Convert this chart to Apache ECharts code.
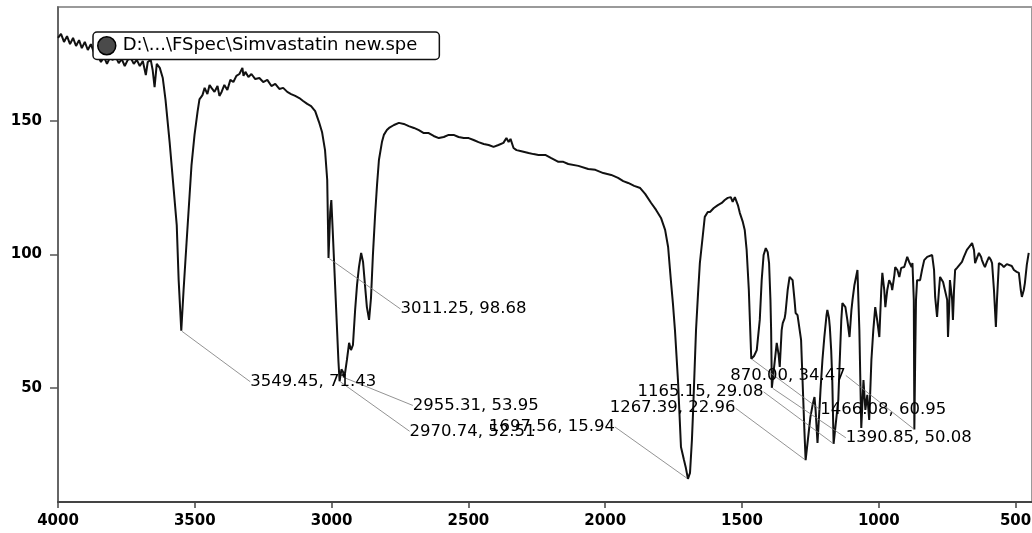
<!DOCTYPE html>
<html>
<head>
<meta charset="utf-8">
<script src="https://cdn.jsdelivr.net/npm/echarts@6/dist/echarts.min.js"></script>
<style>
html,body{margin:0;padding:0;background:#fff;}
#chart{width:1032px;height:533px;}
</style>
</head>
<body>
<div id="chart"></div>
<script>
const seriesName = 'D:\\...\\FSpec\\Simvastatin new.spe';

const wavenumber = [
4000,3989,3978,3967,3956,3945,3934,3923,3913,3902,3891,3880,3869,3854,3843,3832,3821,3811,3800,3789,
3778,3767,3756,3745,3734,3723,3712,3701,3690,3679,3672,3661,3654,3647,3639,3628,3617,3607,3592,3577,
3566,3559,3549.45,3541,3530,3519,3512,3501,3490,3483,3472,3464,3454,3446,3439,3428,3417,3410,3402,3392,
3381,3370,3359,3348,3337,3326,3322,3315,3304,3293,3279,3264,3250,3235,3220,3206,3191,3177,3162,3148,
3133,3118,3104,3089,3075,3060,3046,3035,3024,3016,3011.25,3005,3001,2996,2988,2980,2975,2970.74,2964,2958,
2955.31,2951,2944,2936,2929,2922,2914,2907,2900,2892,2885,2878,2871,2863,2856,2849,2841,2834,2827,2816,
2809,2798,2790,2772,2754,2736,2718,2699,2681,2663,2645,2627,2608,2590,2572,2554,2536,2517,2499,2481,
2463,2444,2426,2408,2390,2372,2361,2353,2346,2335,2324,2310,2295,2280,2262,2244,2219,2197,2171,2153,
2135,2098,2062,2036,2007,1978,1953,1934,1916,1894,1872,1854,1832,1814,1796,1781,1770,1760,1752,1745,
1734,1723,1712,1705,1697.56,1690,1683,1679,1672,1668,1661,1654,1643,1636,1625,1617,1603,1588,1574,1563,
1552,1541,1534,1526,1515,1508,1497,1490,1483,1475,1471,1466.08,1456,1446,1435,1428,1421,1413,1406,1401,
1396,1393.5,1390.85,1373,1366,1362,1355,1351,1344,1341,1333,1326,1319,1315,1308,1304,1297,1290,1284,1281,
1276,1272,1267.39,1250,1242,1235,1231,1224,1217,1213,1206,1199,1191,1188,1182,1179,1174,1170,1165.15,1148,
1144,1137,1133,1126,1122,1115,1107,1100,1096,1089,1078,1071,1064,1056,1049,1042,1035,1027,1020,1013,
1006,998,991,987,980,976,969,962,954,951,943,940,932,925,918,914,907,896,889,880,
877,874,872,870.00,867,864,860,849,842,834,823,816,805,798,794,787,780,776,765,758,
750,747,743,740,732,729,725,721,714,707,696,689,678,670,659,652,648,641,634,626,
623,616,612,605,597,590,586,579,572,568,561,550,543,532,525,514,506,496,488,481,
477,470,466,459,452
];

const transmittance = [
181.1,182.6,179.6,181.8,178.8,181.1,178.1,180.3,177.3,179.6,176.6,178.8,175.8,174.3,172.1,174.0,171.4,173.6,172.9,174.0,
171.7,173.2,170.6,172.9,173.6,171.4,172.9,170.6,172.5,167.2,172.1,172.9,169.1,162.7,171.4,169.9,166.1,157.9,142.1,124.2,
111.0,90.4,71.43,86.7,104.7,122.3,133.5,144.8,153.4,158.1,159.7,162.4,160.1,163.5,162.4,160.9,163.1,159.4,160.9,163.5,
161.6,165.4,164.6,166.9,167.6,169.9,166.9,168.4,166.5,167.6,165.7,166.1,164.6,165.4,163.1,163.9,162.0,162.4,160.9,160.1,
159.4,158.6,157.5,156.4,155.6,153.7,149.6,145.9,139.1,127.9,98.68,116.0,120.4,109.2,90.4,71.7,60.0,52.51,57.0,56.0,
53.95,55.5,60.5,66.9,64.2,66.1,79.2,88.6,95.3,100.6,97.2,88.6,80.3,75.5,83.7,99.8,114.8,126.0,135.4,142.1,
144.8,146.6,147.4,148.5,149.3,148.9,148.1,147.4,146.6,145.5,145.5,144.4,143.6,144.0,144.8,144.8,144.0,143.6,143.6,142.9,
142.1,141.4,141.0,140.3,141.0,141.8,143.6,142.1,143.3,139.9,139.1,138.8,138.4,138.0,137.6,137.3,137.3,136.1,134.7,134.7,
133.9,133.2,132.0,131.7,130.5,129.8,128.7,127.5,126.8,125.7,124.9,122.7,119.3,116.7,113.7,109.2,102.8,90.4,81.1,71.7,
53.0,27.9,23.0,20.0,15.94,18.2,30.5,40.6,60.5,71.7,84.8,96.8,107.3,114.1,115.9,115.9,117.4,118.5,119.3,120.4,
121.2,121.5,119.7,121.5,118.5,115.6,112.2,109.2,101.7,86.7,75.0,60.95,62.0,64.2,75.5,90.4,99.8,102.4,100.9,96.8,
83.0,71.7,50.08,66.9,62.4,57.9,71.7,74.3,76.2,78.1,86.7,91.6,92.3,90.4,83.0,78.1,77.3,76.6,68.0,59.4,
45.5,34.3,22.96,39.1,43.6,46.6,41.8,29.4,41.8,49.3,60.5,69.1,77.3,79.2,76.2,72.9,64.2,53.0,29.08,45.5,
56.7,75.5,81.8,81.1,80.3,75.5,69.1,79.2,83.0,88.6,94.2,71.7,35.0,53.0,41.8,47.4,38.0,60.5,71.7,80.3,
75.5,69.1,86.7,93.1,86.7,80.3,86.7,90.4,88.6,86.7,92.3,95.3,94.2,91.6,95.0,95.3,95.3,99.1,97.2,95.3,
96.8,96.8,83.0,34.47,60.5,83.0,90.4,90.4,94.2,97.9,99.1,99.8,99.8,94.2,84.1,76.6,86.7,91.6,89.7,90.4,
83.0,69.1,79.2,90.4,83.0,75.5,86.7,94.2,95.0,95.3,97.2,99.1,101.7,102.8,104.3,101.7,96.8,98.7,100.6,99.1,
97.9,96.1,95.3,97.2,99.1,97.9,96.8,86.7,72.9,83.0,96.8,96.1,95.3,96.4,96.8,95.7,94.2,93.5,93.1,86.7,
84.1,86.7,89.3,96.1,100.6
];

const peakWavenumber = [3549.45, 3011.25, 2970.74, 2955.31, 1697.56, 1466.08, 1390.85, 1267.39, 1165.15, 870.00];
const peakTransmittance = [71.43, 98.68, 52.51, 53.95, 15.94, 60.95, 50.08, 22.96, 29.08, 34.47];

const xTickValues = [4000, 3500, 3000, 2500, 2000, 1500, 1000, 500];
const yTickValues = [50, 100, 150];

// label placement offsets (layout only)
const peakLabelShift = [[63,51],[66,51],[64,50],[63,28],[-205,-52],[63,51],[68,50],[-202,-52],[-202,-52],[-190,-54]];

const spectrum = wavenumber.map((w, i) => [w, transmittance[i]]);
const peaks = peakWavenumber.map((w, i) => [w, peakTransmittance[i]]);

const chart = echarts.init(document.getElementById('chart'), null, {renderer: 'canvas', width: 1032, height: 533});
const axisFont = {fontFamily: 'DejaVu Sans', fontWeight: 'bold', fontSize: 15, color: '#000', formatter: v => String(v)};
chart.setOption({
  animation: false,
  backgroundColor: '#fff',
  grid: {left: 58, right: 0, top: 7, bottom: 31, containLabel: false, outerBoundsMode: 'none',
    show: true, borderColor: '#9a9a9a', borderWidth: 2},
  xAxis: {
    type: 'value', inverse: true, min: 440, max: 4000,
    axisLine: {show: true, onZero: false, lineStyle: {color: '#444', width: 2}},
    axisTick: {show: true, customValues: xTickValues, length: 6, lineStyle: {color: '#444', width: 1.5}},
    axisLabel: Object.assign({customValues: xTickValues, margin: 12, hideOverlap: false}, axisFont),
    splitLine: {show: false}
  },
  yAxis: {
    type: 'value', min: 7.3, max: 192.7,
    axisLine: {show: true, onZero: false, lineStyle: {color: '#555', width: 1.5}},
    axisTick: {show: true, customValues: yTickValues, length: 8, lineStyle: {color: '#555', width: 1.5}},
    axisLabel: Object.assign({customValues: yTickValues, margin: 16}, axisFont),
    splitLine: {show: false}
  },
  legend: {
    left: 93, top: 32, backgroundColor: '#fff', borderColor: '#111', borderWidth: 1.5, borderRadius: 4,
    padding: [4, 22, 4, 4], itemWidth: 22, itemHeight: 18,
    data: [{name: seriesName, icon: 'path://M0,10A10,10,0,1,1,20,10A10,10,0,1,1,0,10Z',
      itemStyle: {color: '#4a4a4a', borderColor: '#000', borderWidth: 1.5}}],
    textStyle: {fontFamily: 'DejaVu Sans', fontSize: 18, color: '#000'}
  },
  series: [
    {
      name: seriesName, type: 'line', data: spectrum, symbol: 'none', showSymbol: false,
      lineStyle: {color: '#111', width: 2}, itemStyle: {color: '#111'}, z: 2
    },
    {
      name: 'peaks', type: 'scatter', data: peaks, symbolSize: 2,
      itemStyle: {color: 'rgba(0,0,0,0)'}, z: 3,
      label: {
        show: true, position: 'right', distance: 5,
        fontFamily: 'DejaVu Sans', fontSize: 16.5, color: '#000', textBorderWidth: 0, opacity: 1,
        formatter: p => p.value[0].toFixed(2) + ', ' + p.value[1].toFixed(2)
      },
      emphasis: {disabled: true},
      labelLine: {show: true, lineStyle: {color: '#777', width: 0.8}},
      labelLayout: p => ({dx: peakLabelShift[p.dataIndex][0], dy: peakLabelShift[p.dataIndex][1]})
    }
  ]
});
</script>
</body>
</html>
